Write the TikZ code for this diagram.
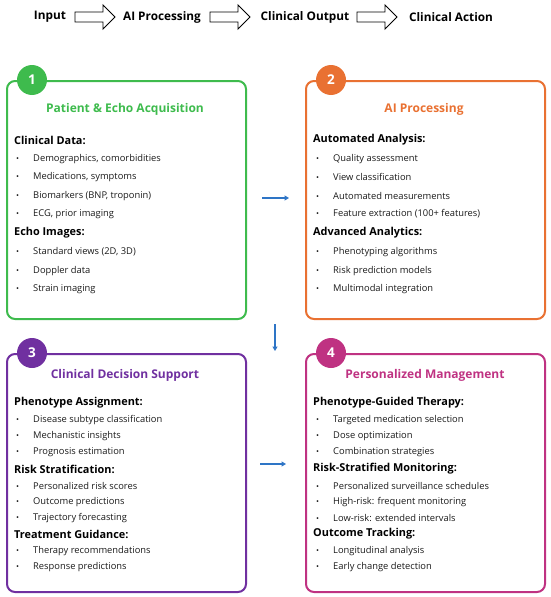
\documentclass[tikz,border=0pt]{standalone}
\usepackage{fontspec}
\setmainfont{Open Sans}
\usetikzlibrary{arrows.meta}
\definecolor{cgreen}{HTML}{3EBB4D}
\definecolor{corange}{HTML}{E97132}
\definecolor{cpurple}{HTML}{7030A0}
\definecolor{cmagenta}{HTML}{BF3282}
\definecolor{cblue}{HTML}{2E75C6}
\definecolor{ctext}{HTML}{1A1A1A}
\newcommand\bul[1]{\makebox[17pt][l]{\fontsize{8}{10}\selectfont\textbullet}#1}
\tikzset{
  panel/.style={draw=#1, line width=2pt, rounded corners=8pt, minimum width=239pt, minimum height=238pt, anchor=north west, inner sep=0pt},
  badge/.style={circle, fill=#1, minimum size=30pt, inner sep=0pt, text=white, font=\bfseries\fontsize{13.5}{15}\selectfont},
  ttl/.style={text=#1, font=\bfseries\fontsize{12}{14}\selectfont, inner sep=0pt},
  hdr/.style={anchor=west, inner sep=0pt, text=black, font=\bfseries\fontsize{10.9}{12}\selectfont},
  itm/.style={anchor=west, inner sep=0pt, text=ctext, font=\fontsize{9.35}{11}\selectfont},
  toplbl/.style={inner sep=0pt, font=\bfseries\fontsize{11.8}{14}\selectfont},
  flow/.style={draw=cblue, line width=1.4pt, -{Triangle[length=4.5pt,width=5pt]}},
  blockarr/.style={draw=black, line width=0.9pt, fill=white, line join=miter}
}
\begin{document}
\begin{tikzpicture}[x=1pt,y=-1pt]
\useasboundingbox (0,0) rectangle (550,597);
% top row
\node[toplbl] (tin) at (50,17) {Input};
\node[toplbl] (tai) at (162,17) {AI Processing};
\node[toplbl] (tco) at (305,17) {Clinical Output};
\node[toplbl] (tca) at (451,17) {Clinical Action};
\foreach \a in {75,210,357}{
  \draw[blockarr] (\a,12) -- (\a+28,12) -- (\a+28,5) -- (\a+40,17) -- (\a+28,29) -- (\a+28,22) -- (\a,22) -- cycle;
}
% panels
\node[panel=cgreen] (p1) at (6,80) {};
\node[panel=corange] (p2) at (305,80) {};
\node[panel=cpurple] (p3) at (6,353) {};
\node[panel=cmagenta] (p4) at (305,353) {};
\node[badge=cgreen] (n1) at (32,80) {1};
\node[badge=corange] (n2) at (331,80) {2};
\node[badge=cpurple] (n3) at (32,353) {3};
\node[badge=cmagenta] (n4) at (331,353) {4};
\node[ttl=cgreen] (t1) at (125,109) {Patient \& Echo Acquisition};
\node[ttl=corange] (t2) at (424,109) {AI Processing};
\node[ttl=cpurple] (t3) at (125,375) {Clinical Decision Support};
\node[ttl=cmagenta] (t4) at (425,375) {Personalized Management};
% panel 1
\node[hdr] (h11) at (14,140) {Clinical Data:};
\node[itm] (i11) at (16,159) {\bul{Demographics, comorbidities}};
\node[itm] (i12) at (16,177) {\bul{Medications, symptoms}};
\node[itm] (i13) at (16,196) {\bul{Biomarkers (BNP, troponin)}};
\node[itm] (i14) at (16,214) {\bul{ECG, prior imaging}};
\node[hdr] (h12) at (14,233) {Echo Images:};
\node[itm] (i15) at (16,252) {\bul{Standard views (2D, 3D)}};
\node[itm] (i16) at (16,271) {\bul{Doppler data}};
\node[itm] (i17) at (16,289) {\bul{Strain imaging}};
% panel 2
\node[hdr] (h21) at (313,140) {Automated Analysis:};
\node[itm] (i21) at (316,159) {\bul{Quality assessment}};
\node[itm] (i22) at (316,177) {\bul{View classification}};
\node[itm] (i23) at (316,196) {\bul{Automated measurements}};
\node[itm] (i24) at (316,214) {\bul{Feature extraction (100+ features)}};
\node[hdr] (h22) at (313,233) {Advanced Analytics:};
\node[itm] (i25) at (316,252) {\bul{Phenotyping algorithms}};
\node[itm] (i26) at (316,271) {\bul{Risk prediction models}};
\node[itm] (i27) at (316,289) {\bul{Multimodal integration}};
% panel 3
\node[hdr] (h31) at (14,403) {Phenotype Assignment:};
\node[itm] (i31) at (16,420) {\bul{Disease subtype classification}};
\node[itm] (i32) at (16,436) {\bul{Mechanistic insights}};
\node[itm] (i33) at (16,452) {\bul{Prognosis estimation}};
\node[hdr] (h32) at (14,469) {Risk Stratification:};
\node[itm] (i34) at (16,486) {\bul{Personalized risk scores}};
\node[itm] (i35) at (16,502) {\bul{Outcome predictions}};
\node[itm] (i36) at (16,518) {\bul{Trajectory forecasting}};
\node[hdr] (h33) at (14,534) {Treatment Guidance:};
\node[itm] (i37) at (16,551) {\bul{Therapy recommendations}};
\node[itm] (i38) at (16,567) {\bul{Response predictions}};
% panel 4
\node[hdr] (h41) at (313,403) {Phenotype-Guided Therapy:};
\node[itm] (i41) at (316,420) {\bul{Targeted medication selection}};
\node[itm] (i42) at (316,436) {\bul{Dose optimization}};
\node[itm] (i43) at (316,452) {\bul{Combination strategies}};
\node[hdr] (h42) at (313,469) {Risk-Stratified Monitoring:};
\node[itm] (i44) at (316,486) {\bul{Personalized surveillance schedules}};
\node[itm] (i45) at (316,502) {\bul{High-risk: frequent monitoring}};
\node[itm] (i46) at (316,518) {\bul{Low-risk: extended intervals}};
\node[hdr] (h43) at (313,534) {Outcome Tracking:};
\node[itm] (i47) at (316,551) {\bul{Longitudinal analysis}};
\node[itm] (i48) at (316,567) {\bul{Early change detection}};
% connectors
\draw[flow, shorten <=15pt, shorten >=16pt] ([yshift=2pt]p1.east) -- ([yshift=2pt]p2.west);
\coordinate (v1) at (275,324);
\coordinate (v2) at (275,351);
\draw[flow] (v1) -- (v2);
\draw[flow, shorten <=13pt, shorten >=19pt] ([yshift=9pt]p3.east) -- ([yshift=9pt]p4.west);
\end{tikzpicture}
\end{document}
